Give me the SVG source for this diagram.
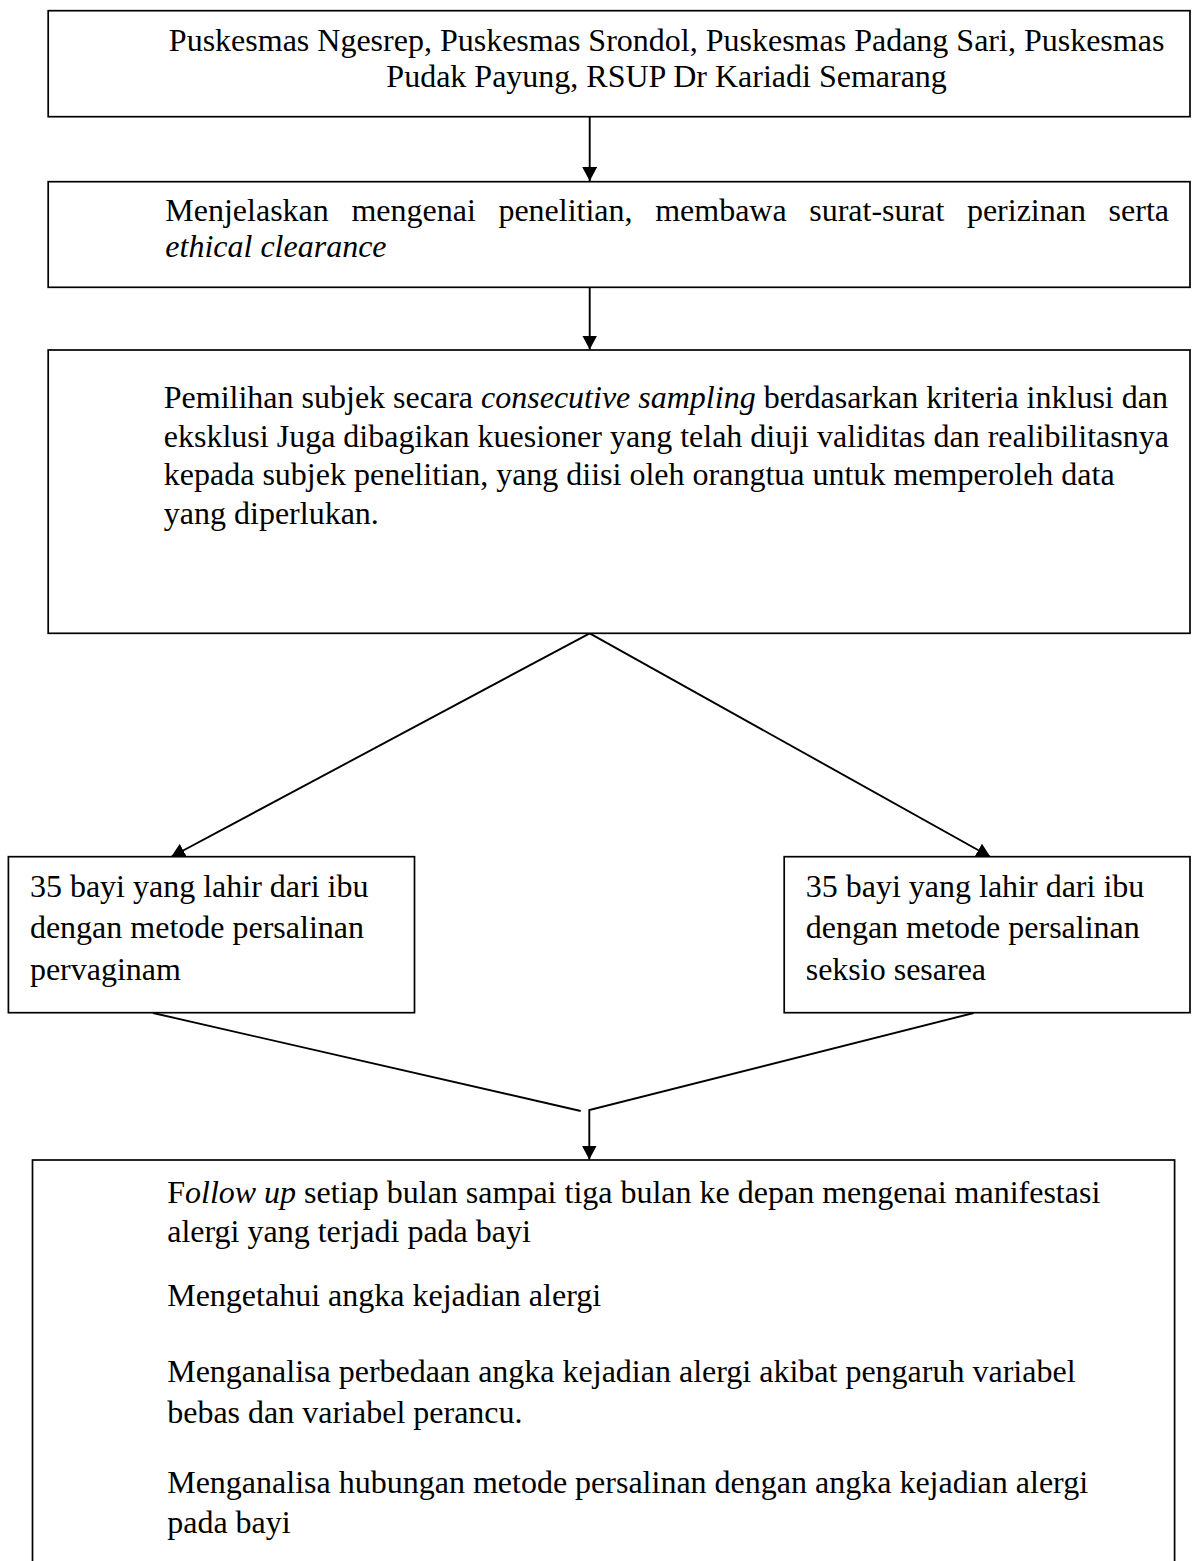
<svg xmlns="http://www.w3.org/2000/svg" width="1192" height="1561" viewBox="0 0 1192 1561">
  <style>
    .box { fill: #ffffff; stroke: #000000; stroke-width: 1.7; }
    .conn { fill: none; stroke: #000000; stroke-width: 1.9; }
    .t { font-family: "Liberation Serif", "Times New Roman", serif; font-size: 32px; fill: #000000; }
    .i { font-style: italic; }
  </style>
  <defs>
    <marker id="arrow" markerUnits="userSpaceOnUse" markerWidth="15" markerHeight="15" refX="14" refY="7.5" orient="auto">
      <path d="M0,0 L14,7.5 L0,15 Z" fill="#000000"/>
    </marker>
  </defs>
  <rect x="0" y="0" width="1192" height="1561" fill="#ffffff"/>

  <g id="connectors">
    <line class="conn" x1="589.7" y1="117" x2="589.7" y2="181" marker-end="url(#arrow)"/>
    <line class="conn" x1="589.7" y1="288" x2="589.7" y2="349.5" marker-end="url(#arrow)"/>
    <line class="conn" x1="589.7" y1="633.3" x2="171" y2="857" marker-end="url(#arrow)"/>
    <line class="conn" x1="589.7" y1="633.3" x2="990.5" y2="857" marker-end="url(#arrow)"/>
    <line class="conn" x1="153" y1="1013" x2="580.7" y2="1111"/>
    <polyline class="conn" points="973.7,1013 589.3,1110 589.3,1159.5" marker-end="url(#arrow)"/>
  </g>

  <g id="node-lokasi">
    <rect class="box" x="48.2" y="10.7" width="1141.8" height="106"/>
    <text class="t" x="666.6" y="50.7" text-anchor="middle">Puskesmas Ngesrep, Puskesmas Srondol, Puskesmas Padang Sari, Puskesmas</text>
    <text class="t" x="666.6" y="87.3" text-anchor="middle">Pudak Payung, RSUP Dr Kariadi Semarang</text>
  </g>

  <g id="node-perizinan">
    <rect class="box" x="48.2" y="181.7" width="1141.8" height="105.6"/>
    <text class="t" x="165.3" y="220.7" word-spacing="14.6">Menjelaskan mengenai penelitian, membawa surat-surat perizinan serta</text>
    <text class="t i" x="165.3" y="256.7">ethical clearance</text>
  </g>

  <g id="node-pemilihan">
    <rect class="box" x="48.2" y="350" width="1141.8" height="283.3"/>
    <text class="t" x="163.8" y="408.3">Pemilihan subjek secara <tspan class="i">consecutive sampling</tspan> berdasarkan kriteria inklusi dan</text>
    <text class="t" x="163.8" y="446.8">eksklusi Juga dibagikan kuesioner yang telah diuji validitas dan realibilitasnya</text>
    <text class="t" x="163.8" y="485.3">kepada subjek penelitian, yang diisi oleh orangtua untuk memperoleh data</text>
    <text class="t" x="163.8" y="523.8">yang diperlukan.</text>
  </g>

  <g id="node-pervaginam">
    <rect class="box" x="8.4" y="856.7" width="406.1" height="156"/>
    <text class="t" x="29.9" y="896.7">35 bayi yang lahir dari ibu</text>
    <text class="t" x="29.9" y="938.3">dengan metode persalinan</text>
    <text class="t" x="29.9" y="980">pervaginam</text>
  </g>

  <g id="node-sesarea">
    <rect class="box" x="784.2" y="856.7" width="405.8" height="156"/>
    <text class="t" x="805.7" y="896.7">35 bayi yang lahir dari ibu</text>
    <text class="t" x="805.7" y="938.3">dengan metode persalinan</text>
    <text class="t" x="805.7" y="980">seksio sesarea</text>
  </g>

  <g id="node-followup">
    <rect class="box" x="32.5" y="1160" width="1142.1" height="460"/>
    <text class="t" x="167.2" y="1203.3">F<tspan class="i">ollow up</tspan> setiap bulan sampai tiga bulan ke depan mengenai manifestasi</text>
    <text class="t" x="167.2" y="1241.7">alergi yang terjadi pada bayi</text>
    <text class="t" x="167.2" y="1306">Mengetahui angka kejadian alergi</text>
    <text class="t" x="167.2" y="1381.7">Menganalisa perbedaan angka kejadian alergi akibat pengaruh variabel</text>
    <text class="t" x="167.2" y="1422.7">bebas dan variabel perancu.</text>
    <text class="t" x="167.2" y="1492.7">Menganalisa hubungan metode persalinan dengan angka kejadian alergi</text>
    <text class="t" x="167.2" y="1533.3">pada bayi</text>
  </g>
</svg>
